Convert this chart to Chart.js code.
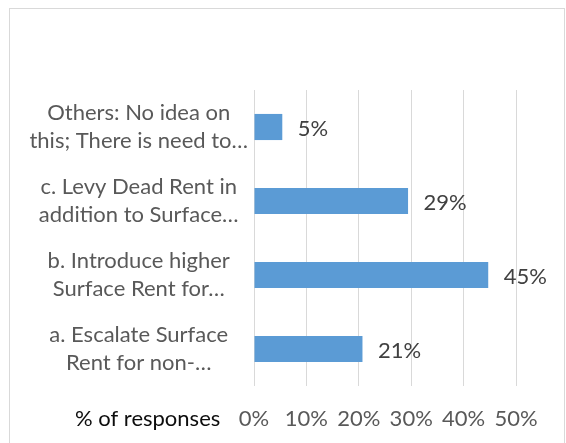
<!DOCTYPE html>
<html>
<head>
<meta charset="utf-8">
<script src="https://cdn.jsdelivr.net/npm/chart.js@4/dist/chart.umd.min.js"></script>
<style>
  html, body { margin: 0; padding: 0; background: #fff; overflow: hidden; }
  #wrap { position: relative; width: 566px; height: 443px; }
  #frame { position: absolute; left: 9px; top: 8px; width: 556px; height: 500px;
           box-sizing: border-box; border: 1px solid #d9d9d9; }
  #chart { position: absolute; left: 0; top: 0; }
</style>
</head>
<body>
<div id="wrap">
  <div id="frame"></div>
  <canvas id="chart" width="566" height="443"></canvas>
</div>
<script>
// categories, top to bottom
var categories = [
    ['Others: No idea on', 'this; There is need to\u2026'],
    ['c. Levy Dead Rent in', 'addition to Surface\u2026'],
    ['b. Introduce higher', 'Surface Rent for\u2026'],
    ['a. Escalate Surface', 'Rent for non-\u2026']
];
var responses = [5.4, 29.4, 44.7, 20.7];
var xTicks = [0, 10, 20, 30, 40, 50];
var axisTitle = '% of responses';

var FONT = 'Lato';
var SIZE = 22;

// value labels next to the bars + the axis title on the tick row
var labelPlugin = {
    id: 'labels',
    afterDatasetsDraw: function (chart) {
        var ctx = chart.ctx;
        var meta = chart.getDatasetMeta(0);
        ctx.save();
        ctx.font = SIZE + 'px ' + FONT;
        ctx.fillStyle = '#404040';
        ctx.textAlign = 'left';
        ctx.textBaseline = 'middle';
        meta.data.forEach(function (bar, i) {
            ctx.fillText(Math.round(responses[i]) + '%', bar.x + 15.5, bar.y + 2);
        });
        var xs = chart.scales.x;
        ctx.fillStyle = '#0d0d0d';
        ctx.fillText(axisTitle, 75, xs.top + 20 + 13);
        ctx.restore();
    }
};

var ctx = document.getElementById('chart').getContext('2d');
var myChart = new Chart(ctx, {
    type: 'bar',
    data: {
        labels: categories,
        datasets: [{
            label: axisTitle,
            data: responses,
            backgroundColor: '#5b9bd5',
            borderColor: '#5b9bd5',
            borderWidth: 0,
            barPercentage: 0.353,
            categoryPercentage: 1
        }]
    },
    options: {
        indexAxis: 'y',
        responsive: false,
        animation: false,
        layout: { padding: { left: 0, top: 90, right: 50, bottom: 0 } },
        plugins: {
            legend: { display: false },
            tooltip: { enabled: false }
        },
        scales: {
            x: {
                min: 0,
                max: 50,
                afterBuildTicks: function (scale) {
                    scale.ticks = xTicks.map(function (v) { return { value: v }; });
                },
                afterFit: function (scale) { scale.height = 57; },
                grid: { color: '#d9d9d9', lineWidth: 1, drawTicks: false },
                border: { display: false },
                ticks: {
                    padding: 20,
                    color: '#595959',
                    font: { family: FONT, size: SIZE, lineHeight: 1.2 },
                    callback: function (v) { return v + '%'; }
                }
            },
            y: {
                afterFit: function (scale) { scale.width = 254; },
                grid: { display: false, drawTicks: false },
                border: { display: false },
                ticks: {
                    autoSkip: false,
                    padding: 6,
                    crossAlign: 'center',
                    color: '#595959',
                    font: { family: FONT, size: SIZE, lineHeight: 1.3 }
                }
            }
        }
    },
    plugins: [labelPlugin]
});
</script>
</body>
</html>
